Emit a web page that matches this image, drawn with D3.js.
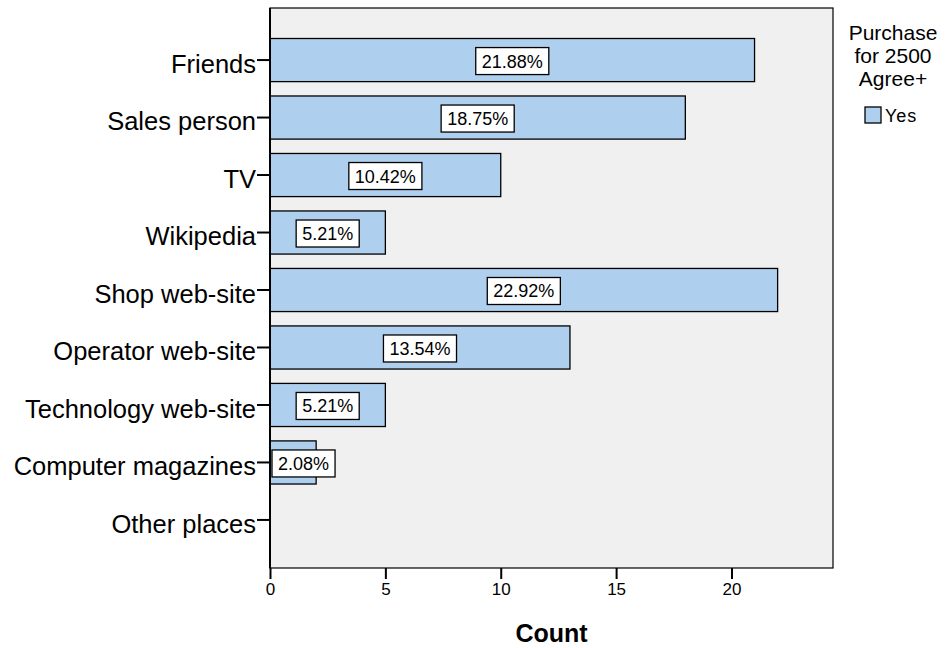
<!DOCTYPE html>
<html>
<head>
<meta charset="utf-8">
<script src="https://cdn.jsdelivr.net/npm/d3@7"></script>
<style>
  body { margin: 0; background: #fff; }
  text { font-family: Arial, "Liberation Sans", sans-serif; }
</style>
</head>
<body>
<svg id="chart" width="946" height="648"></svg>
<script>
// Where buyers heard about the product (count of "Yes" answers)
const sources = ["Friends", "Sales person", "TV", "Wikipedia", "Shop web-site",
                 "Operator web-site", "Technology web-site", "Computer magazines", "Other places"];
const counts = [21, 18, 10, 5, 22, 13, 5, 2, 0];
const xTicks = [0, 5, 10, 15, 20];
const legendTitle = ["Purchase", "for 2500", "Agree+"];
const legendItems = ["Yes"];

const FONT = "Arial, 'Liberation Sans', sans-serif";
const svg = d3.select("#chart");
const plotL = 270, plotR = 833, plotT = 8, plotB = 568;
const total = d3.sum(counts);

const x = d3.scaleLinear().domain([0, 24.4]).range([plotL, plotR]);
const y = d3.scaleBand().domain(sources).range([38.5, 541.5]).paddingInner(0.25).paddingOuter(0);

// plot background
svg.append("rect").attr("x", plotL).attr("y", plotT).attr("width", plotR - plotL).attr("height", plotB - plotT)
  .attr("fill", "#f0f0f0").attr("stroke", "#000").attr("stroke-width", 1.2);

// bars
svg.append("g").selectAll("rect").data(counts.map((c, i) => ({ s: sources[i], c })).filter(d => d.c > 0))
  .join("rect")
  .attr("x", x(0)).attr("y", d => y(d.s))
  .attr("width", d => x(d.c) - x(0)).attr("height", y.bandwidth())
  .attr("fill", "#aed0ee").attr("stroke", "#000").attr("stroke-width", 1.3);

// percentage labels
const lbl = svg.append("g");
counts.forEach((c, i) => {
  if (c <= 0) return;
  const txt = d3.format(".2f")(c / total * 100) + "%";
  const cy = y(sources[i]) + y.bandwidth() / 2 + 1;
  const t = lbl.append("text").attr("y", cy).attr("dy", "0.36em").attr("font-size", 18)
    .attr("text-anchor", "middle").text(txt);
  const w = t.node().getComputedTextLength() + 12;
  let cx = x(c / 2);
  if (cx - w / 2 < plotL + 2) cx = plotL + 2 + w / 2;
  t.attr("x", cx);
  lbl.insert("rect", () => t.node())
    .attr("x", cx - w / 2).attr("y", cy - 13.5).attr("width", w).attr("height", 27)
    .attr("fill", "#fff").attr("stroke", "#000").attr("stroke-width", 1.3);
});

// y axis: the value axis line runs the full plot height
const yAxis = svg.append("g").attr("transform", `translate(${plotL},0)`)
  .call(d3.axisLeft(y).tickSize(13).tickSizeOuter(0).tickPadding(1));
yAxis.select(".domain").remove();
yAxis.selectAll(".tick line").attr("stroke-width", 2);
yAxis.selectAll("text").attr("font-size", 25.5).attr("fill", "#000").attr("dy", "0.5em")
  .attr("font-family", FONT);
svg.append("line").attr("x1", plotL).attr("x2", plotL).attr("y1", plotT).attr("y2", plotB)
  .attr("stroke", "#000").attr("stroke-width", 2);

// x axis
const xAxis = svg.append("g").attr("transform", `translate(0,${plotB})`)
  .call(d3.axisBottom(x).tickValues(xTicks).tickSize(11).tickPadding(4));
xAxis.select(".domain").remove();
xAxis.selectAll(".tick line").attr("stroke-width", 2);
xAxis.selectAll("text").attr("font-size", 17).attr("fill", "#000")
  .attr("font-family", FONT);

svg.append("text").attr("x", (plotL + plotR) / 2).attr("y", 642).attr("text-anchor", "middle")
  .attr("font-size", 25).attr("font-weight", "bold").text("Count");

// legend
const lg = svg.append("g");
legendTitle.forEach((t, i) => {
  lg.append("text").attr("x", 893).attr("y", 40 + i * 23).attr("text-anchor", "middle")
    .attr("font-size", 21).text(t);
});
legendItems.forEach((t, i) => {
  lg.append("rect").attr("x", 865).attr("y", 107 + i * 22).attr("width", 16).attr("height", 16)
    .attr("fill", "#aed0ee").attr("stroke", "#000").attr("stroke-width", 1.3);
  lg.append("text").attr("x", 885).attr("y", 122 + i * 22).attr("font-size", 18)
    .attr("letter-spacing", 1).text(t);
});
</script>
</body>
</html>
